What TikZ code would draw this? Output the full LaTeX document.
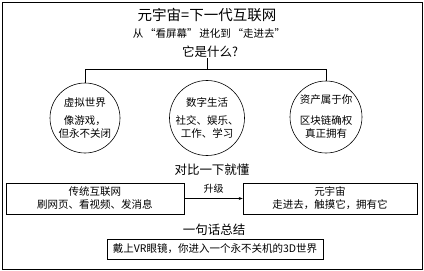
\documentclass[tikz,border=0pt]{standalone}
\usepackage{fontspec}
\setmainfont{Noto Sans CJK SC}
\usetikzlibrary{arrows.meta, positioning}

\begin{document}
\begin{tikzpicture}[
        x=1pt, y=-1pt,
        >=Stealth,
        every node/.style={font=\fontsize{10.5}{13}\selectfont, inner sep=0pt},
        topic/.style={draw, circle, minimum size=70pt, align=center, line width=0.6pt},
        cmpbox/.style={draw, minimum height=31pt, align=center, line width=0.6pt},
        hdr/.style={font=\fontsize{12.5}{15}\selectfont},
        link/.style={line width=0.6pt},
        arr/.style={->, line width=0.6pt, >={Stealth[length=4pt, width=3pt]}},
    ]
    \useasboundingbox (0,0) rectangle (424,271);

    %% ===== Frame =====
    \draw[line width=0.8pt] (2,2) rectangle (422,269);

    %% ===== Heading =====
    \node[font=\fontsize{14.5}{17}\selectfont] (title) at (207,15) {元宇宙=下一代互联网};
    \node[font=\fontsize{10.5}{12}\selectfont] (sub) at (209,33) {从\,“看屏幕”\,进化到\,“走进去”};
    \node[hdr] (what) at (210,52) {它是什么?};

    %% ===== Three circles =====
    \node[topic] (virt) at (85,118) {虚拟世界\\[5pt]像游戏，\\但永不关闭};
    \node[topic] (life) at (207,118) {数字生活\\[5pt]社交、娱乐、\\工作、学习};
    \node[topic, minimum size=72pt] (own) at (326,117) {资产属于你\\[8pt]区块链确权\\真正拥有};

    \coordinate (hub) at (207,69);
    \draw[link] (hub |- what.south) -- (hub);
    \draw[link] (virt.north) -- (virt.north |- hub) -- (own.north |- hub) -- (own.north);

    %% ===== Comparison =====
    \node[hdr] (cmp) at (212,170) {对比一下就懂};
    \node[cmpbox, minimum width=178pt] (old) at (95,198.5) {传统互联网\\刷网页、看视频、发消息};
    \node[cmpbox, minimum width=174pt] (meta) at (330,198.5) {元宇宙\\走进去，触摸它，拥有它};
    \draw[arr] (old) -- node[above=5pt, font=\fontsize{10}{12}\selectfont] (up) {升级} (meta);

    %% ===== Summary =====
    \node[hdr] (sum) at (214,230) {一句话总结};
    \node[draw, line width=0.6pt, minimum width=216pt, minimum height=20pt] (vr) at (215,249) {戴上VR眼镜，你进入一个永不关机的3D世界};

\end{tikzpicture}
\end{document}
